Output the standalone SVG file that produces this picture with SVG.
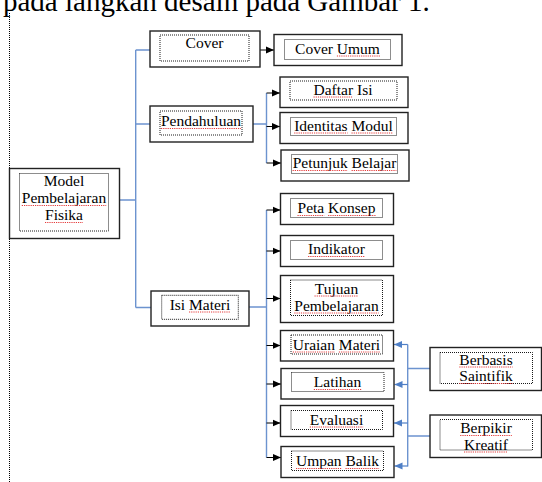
<svg xmlns="http://www.w3.org/2000/svg" width="542" height="482" viewBox="0 0 542 482">
<defs>
<marker id="ab" markerWidth="8" markerHeight="8" refX="8" refY="4" orient="auto" markerUnits="userSpaceOnUse"><path d="M0,0.5 L8,4 L0,7.5 Z" fill="#000"/></marker>
<marker id="au" markerWidth="8" markerHeight="8" refX="8" refY="4" orient="auto" markerUnits="userSpaceOnUse"><path d="M0,0.5 L8,4 L0,7.5 Z" fill="#4f7fc6"/></marker>
</defs>
<style>
.o{fill:#fff;stroke:#222;stroke-width:1.4}
.i{fill:none;stroke:#000;stroke-width:0.9;stroke-dasharray:1 1}
.t{font-family:"Liberation Serif","Times New Roman",serif;font-size:15.5px;fill:#000;text-anchor:middle}
.b{fill:none;stroke:#6c93cf;stroke-width:1.4}
.k{fill:none;stroke:#000;stroke-width:1;marker-end:url(#ab)}
.u{fill:none;stroke:#4f7fc6;stroke-width:1.2;marker-end:url(#au)}
.sq{fill:none;stroke:#e53b3b;stroke-width:1;stroke-dasharray:1.2 1}
</style>
<rect width="542" height="482" fill="#fff"/>
<text x="3" y="10.5" style="font-family:'Liberation Serif','Times New Roman',serif;font-size:29px;fill:#000">pada langkah desain pada Gambar 1.</text>
<line x1="9.5" y1="13" x2="9.5" y2="482" stroke="#000" stroke-width="1" stroke-dasharray="1 1"/>
<g id="connectors">
<path class="b" d="M119.5,200 H135.7 M135.7,50 V307.5 M135.7,50 H150 M135.7,124 H150 M135.7,307.5 H151"/>
<line class="k" x1="260" y1="50" x2="274" y2="50"/>
<path class="b" d="M253,124 H266.5 M266.5,93 V163"/>
<line class="k" x1="266.5" y1="93" x2="280" y2="93"/>
<line class="k" x1="266.5" y1="126.5" x2="280" y2="126.5"/>
<line class="k" x1="266.5" y1="163" x2="281" y2="163"/>
<path class="b" d="M249,307 H266.5 M266.5,210 V457.5"/>
<line class="k" x1="266.5" y1="210" x2="280.5" y2="210"/>
<line class="k" x1="266.5" y1="251" x2="280.5" y2="251"/>
<line class="k" x1="266.5" y1="298.5" x2="280.5" y2="298.5"/>
<line class="k" x1="266.5" y1="345.5" x2="280.5" y2="345.5"/>
<line class="k" x1="266.5" y1="384" x2="281" y2="384"/>
<line class="k" x1="266.5" y1="423" x2="280.5" y2="423"/>
<line class="k" x1="266.5" y1="457.5" x2="281" y2="457.5"/>
<path class="b" d="M407.7,344.5 V466.5 M430,368.5 H407.7 M430,436 H407.7"/>
<line class="u" x1="407.7" y1="344.5" x2="394" y2="344.5"/>
<line class="u" x1="407.7" y1="384.5" x2="394.5" y2="384.5"/>
<line class="u" x1="407.7" y1="423" x2="394" y2="423"/>
<line class="u" x1="407.7" y1="466" x2="394.5" y2="466"/>
</g>
<g id="model"><rect class="o" x="9.5" y="168.5" width="110" height="70"/><rect class="i" x="19.5" y="173.5" width="89" height="57.5"/><text class="t" x="64" y="186">Model</text><text class="t" x="64" y="203">Pembelajaran</text><text class="t" x="64" y="220">Fisika</text></g>
<g id="cover"><rect class="o" x="150" y="31" width="110" height="36"/><rect class="i" x="160" y="35" width="89" height="26"/><text class="t" x="204.5" y="48">Cover</text></g>
<g id="pendahuluan"><rect class="o" x="150" y="106" width="103" height="36"/><rect class="i" x="160" y="111" width="82" height="24"/><text class="t" x="201" y="126">Pendahuluan</text></g>
<g id="isi-materi"><rect class="o" x="151" y="291" width="98" height="35"/><rect class="i" x="161.7" y="295.3" width="76.6" height="24"/><text class="t" x="200" y="309.5">Isi Materi</text></g>
<g id="cover-umum"><rect class="o" x="274" y="34.5" width="128" height="31"/><rect class="i" x="284.5" y="39.5" width="106" height="20"/><text class="t" x="337.5" y="53.5">Cover Umum</text></g>
<g id="daftar-isi"><rect class="o" x="280" y="77" width="128" height="30.5"/><rect class="i" x="290" y="81" width="107" height="19"/><text class="t" x="343" y="94.5">Daftar Isi</text></g>
<g id="identitas-modul"><rect class="o" x="280" y="112.5" width="128" height="31"/><rect class="i" x="290.5" y="117.5" width="106" height="18"/><text class="t" x="343.5" y="130.5">Identitas Modul</text></g>
<g id="petunjuk-belajar"><rect class="o" x="281" y="150" width="128" height="31"/><rect class="i" x="291.5" y="154.5" width="106" height="19"/><text class="t" x="344.5" y="168">Petunjuk Belajar</text></g>
<g id="peta-konsep"><rect class="o" x="280.5" y="193.5" width="113" height="31"/><rect class="i" x="290.5" y="198.5" width="92" height="19"/><text class="t" x="336.5" y="213">Peta Konsep</text></g>
<g id="indikator"><rect class="o" x="280.5" y="235.5" width="113" height="31"/><rect class="i" x="290.5" y="240.5" width="92" height="19"/><text class="t" x="336.5" y="254">Indikator</text></g>
<g id="tujuan"><rect class="o" x="280.5" y="275.5" width="113" height="47"/><rect class="i" x="290.5" y="280" width="92" height="35.5"/><text class="t" x="336.5" y="293.5">Tujuan</text><text class="t" x="336.5" y="310.5">Pembelajaran</text></g>
<g id="uraian-materi"><rect class="o" x="280.5" y="330.5" width="113" height="30.5"/><rect class="i" x="291" y="335" width="91.5" height="19"/><text class="t" x="336.5" y="349.5">Uraian Materi</text></g>
<g id="latihan"><rect class="o" x="281" y="368.5" width="113" height="30.5"/><rect class="i" x="291.5" y="372.5" width="92.5" height="19"/><text class="t" x="337.5" y="387">Latihan</text></g>
<g id="evaluasi"><rect class="o" x="280.5" y="405.5" width="113" height="31"/><rect class="i" x="291" y="410.5" width="91.5" height="19"/><text class="t" x="336.5" y="424.5">Evaluasi</text></g>
<g id="umpan-balik"><rect class="o" x="281" y="446.5" width="113" height="31"/><rect class="i" x="291.5" y="451" width="92" height="19.5"/><text class="t" x="337.5" y="466">Umpan Balik</text></g>
<g id="berbasis-saintifik"><rect class="o" x="430" y="347.5" width="111.5" height="43"/><rect class="i" x="440" y="352.5" width="92.5" height="31"/><text class="t" x="486" y="364.5">Berbasis</text><text class="t" x="486" y="381">Saintifik</text></g>
<g id="berpikir-kreatif"><rect class="o" x="430" y="415" width="111.5" height="42.5"/><rect class="i" x="440" y="419.5" width="92.5" height="30.5"/><text class="t" x="486" y="433">Berpikir</text><text class="t" x="486" y="449.5">Kreatif</text></g>
<g id="spellcheck-marks">
<path class="sq" d="M21.8,205.5 H106.2 M45,222.5 H83 M161,128.5 H241 M189,312 H230.3 M336.9,56 H380 M313.5,97 H353.1 M294.2,133 H347.6 M351.5,133 H392.8 M292.6,170.5 H347.7 M351.6,170.5 H396.4 M297.5,215.5 H324.2 M328.1,215.5 H375.5 M308.1,256.5 H364.9 M314.5,296 H358.4 M294.3,313 H378.7 M292.8,352 H335 M338.9,352 H380.2 M313.8,389.5 H361.2 M309.8,427 H363.2 M296,468.5 H341.6 M345.5,468.5 H379.1 M459.3,367 H512.7 M459.3,383.5 H512.7 M460.2,435.5 H511.8 M464,452 H507.9"/>
</g>
</svg>
